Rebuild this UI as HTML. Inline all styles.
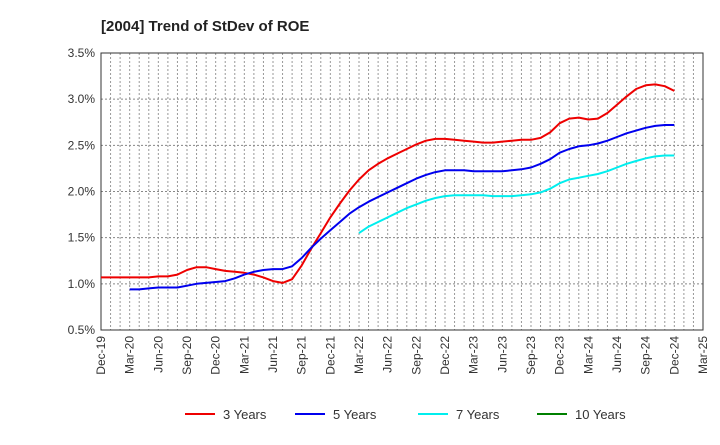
<!DOCTYPE html>
<html><head><meta charset="utf-8"><style>
body{margin:0;background:#fff;font-family:"Liberation Sans",sans-serif;}
</style></head><body>
<svg id="chart" width="720" height="440" xmlns="http://www.w3.org/2000/svg" font-family="Liberation Sans, sans-serif">
<text x="101" y="31" font-size="15" font-weight="bold" fill="#222">[2004]  Trend of StDev of ROE</text>
<g id="grid"></g><g id="axes"></g><g id="series"></g><g id="legend"></g>
</svg>
<script>
const xLabels=["Dec-19","Mar-20","Jun-20","Sep-20","Dec-20","Mar-21","Jun-21","Sep-21","Dec-21","Mar-22","Jun-22","Sep-22","Dec-22","Mar-23","Jun-23","Sep-23","Dec-23","Mar-24","Jun-24","Sep-24","Dec-24","Mar-25"];
const yTicks=[0.5,1.0,1.5,2.0,2.5,3.0,3.5];
const s3Start=0;
const s3=[1.07,1.07,1.07,1.07,1.07,1.07,1.08,1.08,1.10,1.15,1.18,1.18,1.16,1.14,1.13,1.12,1.10,1.07,1.03,1.01,1.05,1.20,1.38,1.55,1.72,1.87,2.01,2.13,2.23,2.30,2.36,2.41,2.46,2.51,2.55,2.57,2.57,2.56,2.55,2.54,2.53,2.53,2.54,2.55,2.56,2.56,2.58,2.64,2.74,2.79,2.80,2.78,2.79,2.85,2.94,3.03,3.11,3.15,3.16,3.14,3.09];
const s5Start=3;
const s5=[0.94,0.94,0.95,0.96,0.96,0.96,0.98,1.00,1.01,1.02,1.03,1.06,1.10,1.13,1.15,1.16,1.16,1.19,1.28,1.39,1.49,1.58,1.67,1.76,1.83,1.89,1.94,1.99,2.04,2.09,2.14,2.18,2.21,2.23,2.23,2.23,2.22,2.22,2.22,2.22,2.23,2.24,2.26,2.30,2.35,2.42,2.46,2.49,2.50,2.52,2.55,2.59,2.63,2.66,2.69,2.71,2.72,2.72];
const s7Start=27;
const s7=[1.55,1.62,1.67,1.72,1.77,1.82,1.86,1.90,1.93,1.95,1.96,1.96,1.96,1.96,1.95,1.95,1.95,1.96,1.97,1.99,2.03,2.09,2.13,2.15,2.17,2.19,2.22,2.26,2.30,2.33,2.36,2.38,2.39,2.39];
const s10=[];
const legendNames=["3 Years","5 Years","7 Years","10 Years"];
const X0=101,X1=703,Y0=330,Y1=53,NM=63;
const xs=m=>X0+m*(X1-X0)/NM;
const ys=v=>Y0-(v-0.5)*(Y0-Y1)/3;
const NS="http://www.w3.org/2000/svg";
function mk(tag,attrs,parent){const e=document.createElementNS(NS,tag);for(const k in attrs)e.setAttribute(k,attrs[k]);parent.appendChild(e);return e;}
const grid=document.getElementById('grid'),axes=document.getElementById('axes'),ser=document.getElementById('series'),leg=document.getElementById('legend');
for(let m=1;m<NM;m++){const l=mk('line',{x1:xs(m),x2:xs(m),y1:Y1,y2:Y0,stroke:'#999','stroke-dasharray':'2,2','stroke-width':1},grid);

}
yTicks.forEach(v=>{if(v>0.5&&v<3.5){const l=mk('line',{x1:X0,x2:X1,y1:ys(v),y2:ys(v),stroke:'#888','stroke-dasharray':'2,2','stroke-width':1},grid);

}
const t=mk('text',{x:X0-6,y:ys(v)+4,'text-anchor':'end','font-size':12,fill:'#333'},axes);t.textContent=v.toFixed(1)+'%';

});
xLabels.forEach((lab,i)=>{const x=xs(i*3);const t=mk('text',{x:0,y:0,'text-anchor':'end','font-size':12,fill:'#333',transform:`translate(${x+4},${Y0+6}) rotate(-90)`},axes);t.textContent=lab;

});
const fr=mk('rect',{x:X0,y:Y1,width:X1-X0,height:Y0-Y1,fill:'none',stroke:'#333','stroke-width':1},axes);


function line(arr,start,color,name){if(!arr.length)return;const p=arr.map((v,i)=>xs(start+i).toFixed(1)+','+ys(v).toFixed(1)).join(' ');
const pl=mk('polyline',{points:p,fill:'none',stroke:color,'stroke-width':2,'stroke-linejoin':'round'},ser);

}
line(s3,s3Start,'#ee0000','series-3-years');
line(s5,s5Start,'#0000ee','series-5-years');
line(s7,s7Start,'#00eeee','series-7-years');
line(s10,0,'#008000','series-10-years');
const lc=['#ee0000','#0000ee','#00eeee','#008000'],lx=[185,295,418,537];
legendNames.forEach((n,i)=>{const g=mk('g',{},leg);


mk('line',{x1:lx[i],x2:lx[i]+30,y1:414,y2:414,stroke:lc[i],'stroke-width':2},g);
const t=mk('text',{x:lx[i]+38,y:419,'font-size':13,fill:'#333'},g);t.textContent=n;});
</script>
</body></html>
